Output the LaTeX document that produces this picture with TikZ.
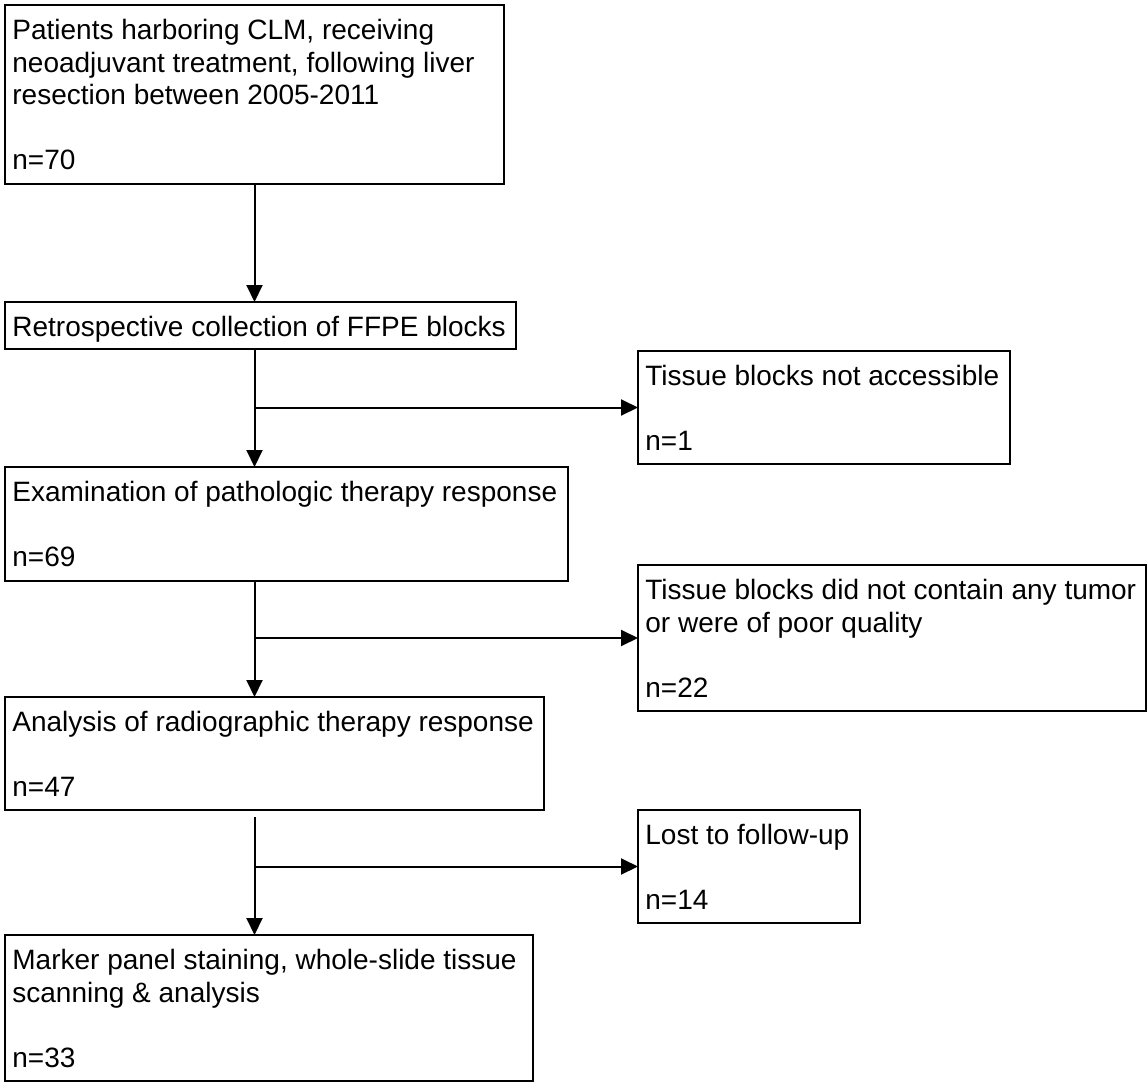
\documentclass[tikz,border=0pt]{standalone}
\usepackage{fontspec}
\setmainfont{Liberation Sans}
\usetikzlibrary{arrows.meta,calc}
\newcommand\boxlines[1]{\begin{tabular}[t]{@{}l@{}}#1\end{tabular}}
\begin{document}
\begin{tikzpicture}[x=0.5pt,y=-0.5pt,
  box/.style={draw=black, line width=1pt, rectangle, inner sep=0pt, outer sep=0pt, anchor=north west},
  txt/.style={inner sep=0pt, anchor=base west, font=\fontsize{14}{16.25}\selectfont},
  arr/.style={line width=1pt, -{Triangle[length=8.5pt,width=8pt]}}]
\useasboundingbox (0,0) rectangle (1148,1088);

% boxes
\node[box, minimum width=249.5pt, minimum height=89.5pt] (b1) at (5,5) {};
\node[box, minimum width=255.5pt, minimum height=23.5pt] (b2) at (5,302) {};
\node[box, minimum width=186pt,   minimum height=56.5pt] (s1) at (638,351) {};
\node[box, minimum width=281.5pt, minimum height=57pt]   (b4) at (5,467) {};
\node[box, minimum width=254pt,   minimum height=73pt]   (s2) at (638,565) {};
\node[box, minimum width=269.5pt, minimum height=56.5pt] (b6) at (5,697) {};
\node[box, minimum width=111pt,   minimum height=56.5pt] (s3) at (638,810) {};
\node[box, minimum width=264pt,   minimum height=73pt]   (b8) at (5,935) {};

% texts
\node[txt] (t1) at ($(b1.north west)+(7,34.5)$) {\boxlines{Patients harboring CLM, receiving\\ neoadjuvant treatment, following liver\\ resection between 2005-2011\\ \\ n=70}};
\node[txt] (t2) at ($(b2.north west)+(7,34.5)$) {\boxlines{Retrospective collection of FFPE blocks}};
\node[txt] (ts1) at ($(s1.north west)+(7,34.5)$) {\boxlines{Tissue blocks not accessible\\ \\ n=1}};
\node[txt] (t4) at ($(b4.north west)+(7,34.5)$) {\boxlines{Examination of pathologic therapy response\\ \\ n=69}};
\node[txt] (ts2) at ($(s2.north west)+(7,34.5)$) {\boxlines{Tissue blocks did not contain any tumor\\ or were of poor quality\\ \\ n=22}};
\node[txt] (t6) at ($(b6.north west)+(7,34.5)$) {\boxlines{Analysis of radiographic therapy response\\ \\ n=47}};
\node[txt] (ts3) at ($(s3.north west)+(7,34.5)$) {\boxlines{Lost to follow-up\\ \\ n=14}};
\node[txt] (t8) at ($(b8.north west)+(7,34.5)$) {\boxlines{Marker panel staining, whole-slide tissue\\ scanning \& analysis\\ \\ n=33}};

% connectors
\draw[arr] (b1.south) -- (b1.south |- b2.north);
\draw[arr] (b1.south |- b2.south) -- (b1.south |- b4.north);
\draw[arr] (b1.south |- s1.west) -- (s1.west);
\draw[arr] (b1.south |- b4.south) -- (b1.south |- b6.north);
\draw[arr] (b1.south |- s2.west) -- (s2.west);
\coordinate (g6) at ($(b1.south |- b6.south)+(0,7)$);
\draw[arr] (g6) -- (b1.south |- b8.north);
\draw[arr] (b1.south |- s3.west) -- (s3.west);
\end{tikzpicture}
\end{document}
